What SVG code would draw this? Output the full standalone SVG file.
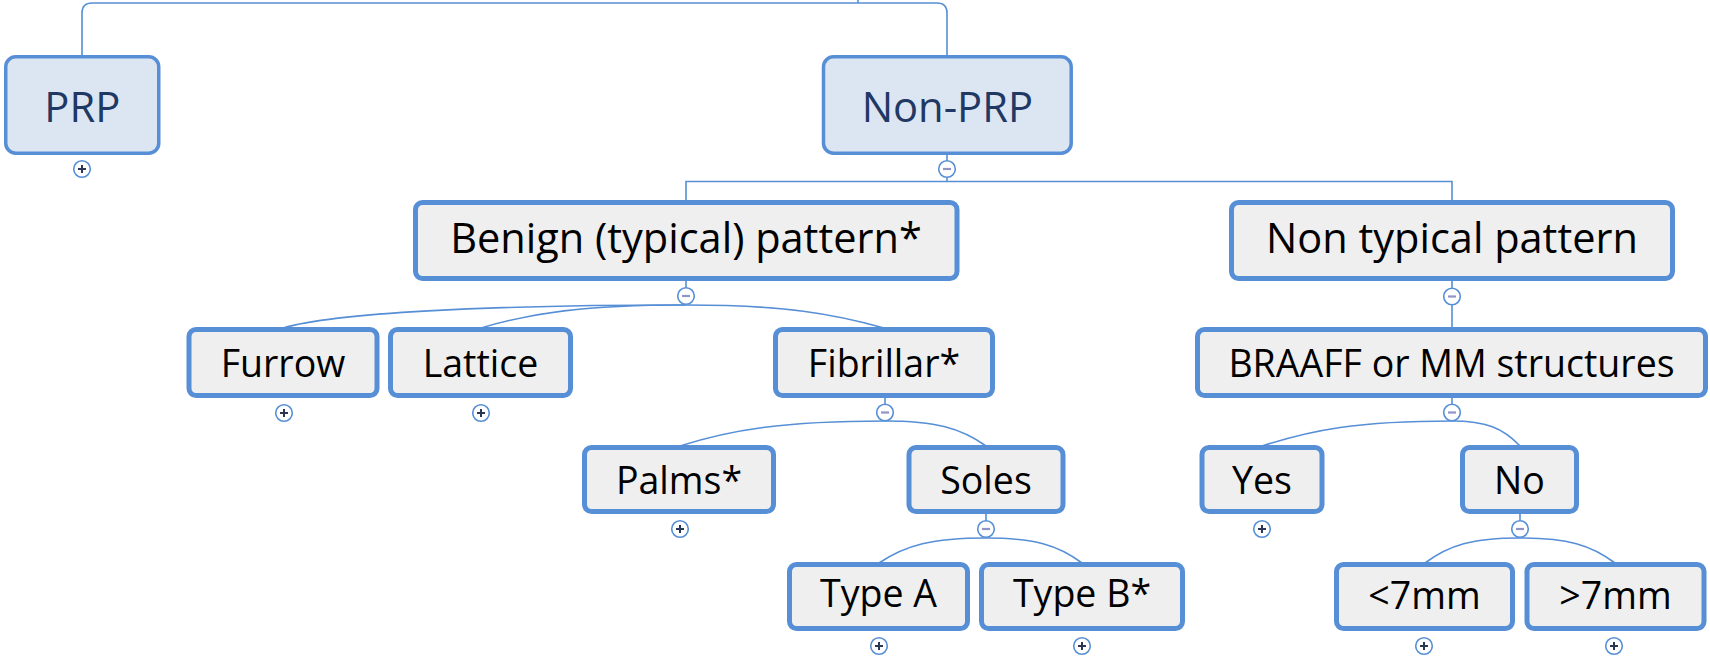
<svg xmlns="http://www.w3.org/2000/svg" width="1710" height="659" viewBox="0 0 1710 659">
<style>
.bx{fill:#efefef;stroke:#578fd6;stroke-width:5}
.top{fill:#dce6f2;stroke:#578fd6;stroke-width:3.5}
.t1{font-family:"Open Sans","Liberation Sans",sans-serif;font-size:41.7px;fill:#1f3864;text-anchor:middle}
.t2{font-family:"Open Sans","Liberation Sans",sans-serif;font-size:41.5px;fill:#000;text-anchor:middle}
.t3{font-family:"Open Sans","Liberation Sans",sans-serif;font-size:37.5px;fill:#000;text-anchor:middle}
.cn{fill:none;stroke:#578fd6;stroke-width:1.6}
.ci{fill:#fff;stroke:#578fd6;stroke-width:1.6}
.pl{stroke:#2b3656;stroke-width:2}
.mi{stroke:#9095c8;stroke-width:2.2}
</style>
<defs>
<g id="plus"><circle class="ci" r="8.3"/><path class="pl" d="M-4 0H4M0 -4V4"/></g>
<g id="minus"><circle class="ci" r="8.3"/><path class="mi" d="M-4 0H4"/></g>
</defs>
<g id="connectors">
<path class="cn" d="M858 0V3M82 55V13Q82 3 92 3H937Q947 3 947 13V55"/>
<path class="cn" d="M947 155V181.5M686 200V181.5H1452V200"/>
<path class="cn" d="M686 280V288M1452 280V327M885 397V404M1452 397V404M986 513V521M1520 513V521"/>
<path class="cn" d="M686 305C486 305 333 313 283 328"/>
<path class="cn" d="M686 305C584 305 531 313 481 328"/>
<path class="cn" d="M686 305C785 305 834 314 884 328"/>
<path class="cn" d="M885 421C783 421 730 430 680 446"/>
<path class="cn" d="M885 421C935.5 421 961 428 986 446"/>
<path class="cn" d="M986 538C932.5 538 905.75 545 879 563"/>
<path class="cn" d="M986 538C1034 538 1058 545 1082 563"/>
<path class="cn" d="M1452 421C1357 421 1312 430 1262 446"/>
<path class="cn" d="M1452 421C1486 421 1503 428 1520 446"/>
<path class="cn" d="M1520 538C1472.5 538 1449 545 1425 563"/>
<path class="cn" d="M1520 538C1567.5 538 1591 545 1615 563"/>
</g>
<g id="n-prp"><rect class="top" x="5.75" y="56.75" width="153" height="96.5" rx="10"/><text class="t1" x="82.3" y="121.7">PRP</text><use href="#plus" x="82" y="169"/></g>
<g id="n-nonprp"><rect class="top" x="823.5" y="56.75" width="247.7" height="96.5" rx="10"/><text class="t1" x="947.3" y="121.7">Non-PRP</text><use href="#minus" x="947" y="169"/></g>
<g id="n-benign"><rect class="bx" x="415.5" y="202.5" width="541.5" height="76" rx="7"/><text class="t2" x="686" y="252.7">Benign (typical) pattern*</text><use href="#minus" x="686" y="296"/></g>
<g id="n-nontypical"><rect class="bx" x="1231.5" y="202.5" width="441" height="76" rx="7"/><text class="t2" x="1452" y="252.7">Non typical pattern</text><use href="#minus" x="1452" y="296.5"/></g>
<g id="n-furrow"><rect class="bx" x="189" y="329.5" width="188" height="66" rx="7"/><text class="t3" x="283" y="377">Furrow</text><use href="#plus" x="284" y="413"/></g>
<g id="n-lattice"><rect class="bx" x="390.5" y="329.5" width="180" height="66" rx="7"/><text class="t3" x="480.5" y="377">Lattice</text><use href="#plus" x="481" y="413"/></g>
<g id="n-fibrillar"><rect class="bx" x="775.5" y="329.5" width="217" height="66" rx="7"/><text class="t3" x="884" y="377">Fibrillar*</text><use href="#minus" x="885" y="412.5"/></g>
<g id="n-braaff"><rect class="bx" x="1197.5" y="329.5" width="508" height="66" rx="7"/><text class="t3" x="1451.5" y="377">BRAAFF or MM structures</text><use href="#minus" x="1452" y="412.5"/></g>
<g id="n-palms"><rect class="bx" x="584.5" y="447.5" width="189" height="64" rx="7"/><text class="t3" x="679" y="494">Palms*</text><use href="#plus" x="680" y="529"/></g>
<g id="n-soles"><rect class="bx" x="909" y="447.5" width="154" height="64" rx="7"/><text class="t3" x="986" y="494">Soles</text><use href="#minus" x="986" y="529"/></g>
<g id="n-yes"><rect class="bx" x="1202" y="447.5" width="120" height="64" rx="7"/><text class="t3" x="1262" y="494">Yes</text><use href="#plus" x="1262" y="529"/></g>
<g id="n-no"><rect class="bx" x="1462.5" y="447.5" width="114" height="64" rx="7"/><text class="t3" x="1519.5" y="494">No</text><use href="#minus" x="1520" y="529"/></g>
<g id="n-typea"><rect class="bx" x="789.5" y="564.5" width="178" height="64" rx="7"/><text class="t3" x="878.5" y="607">Type A</text><use href="#plus" x="879" y="646"/></g>
<g id="n-typeb"><rect class="bx" x="981.5" y="564.5" width="201" height="64" rx="7"/><text class="t3" x="1082" y="607">Type B*</text><use href="#plus" x="1082" y="646"/></g>
<g id="n-lt7"><rect class="bx" x="1336.5" y="564.5" width="176" height="64" rx="7"/><text class="t3" x="1424.5" y="609">&lt;7mm</text><use href="#plus" x="1424" y="646"/></g>
<g id="n-gt7"><rect class="bx" x="1527" y="564.5" width="177" height="64" rx="7"/><text class="t3" x="1615.5" y="609">&gt;7mm</text><use href="#plus" x="1614" y="646"/></g>
</svg>
